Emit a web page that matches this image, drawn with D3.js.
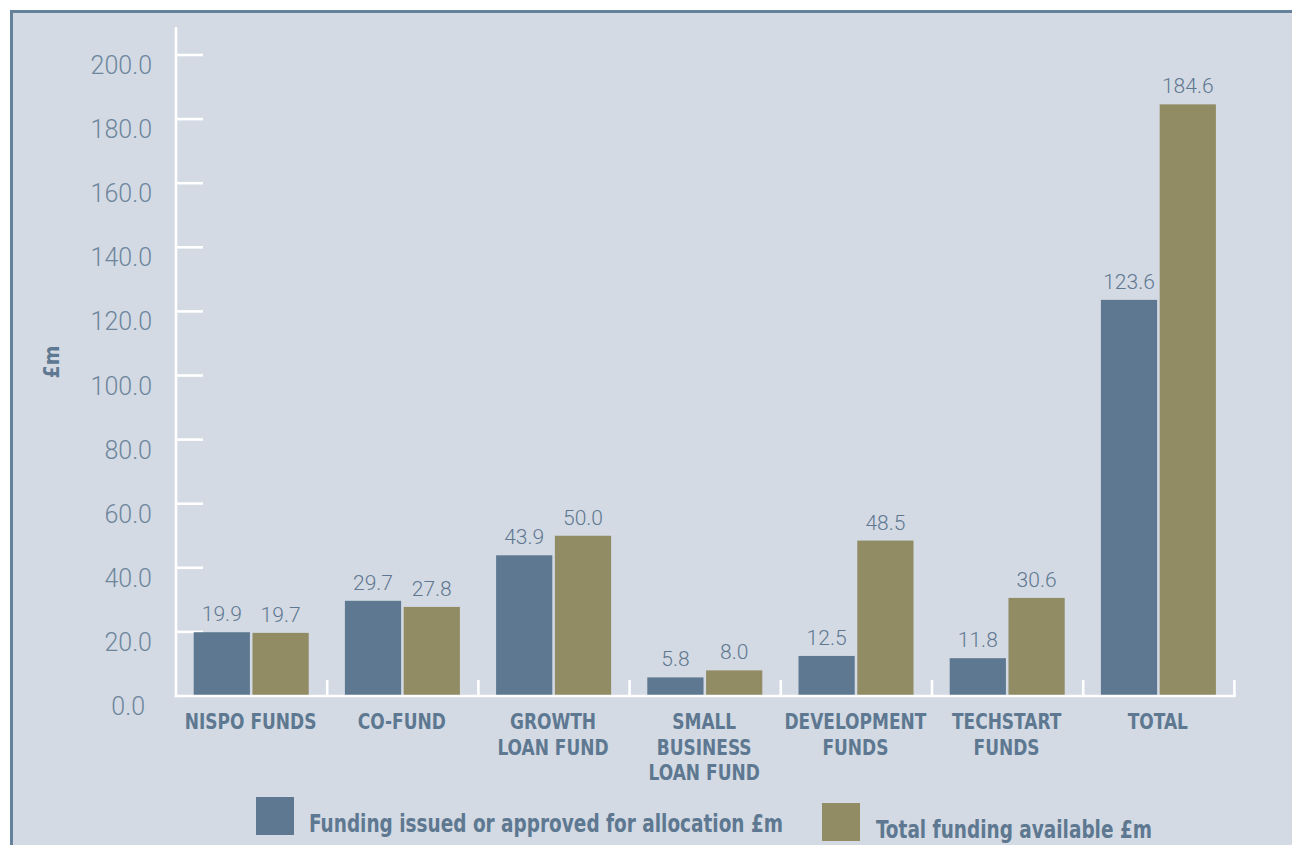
<!DOCTYPE html>
<html><head><meta charset="utf-8">
<script src="https://cdn.jsdelivr.net/npm/d3@7"></script>
<style>
html,body{margin:0;padding:0;background:#fff;}
svg{display:block;}
</style></head>
<body>
<svg id="c" width="1292" height="845"></svg>
<script>
const categories = [["NISPO FUNDS"],["CO-FUND"],["GROWTH","LOAN FUND"],["SMALL","BUSINESS","LOAN FUND"],["DEVELOPMENT","FUNDS"],["TECHSTART","FUNDS"],["TOTAL"]];
const issued = [19.9, 29.7, 43.9, 5.8, 12.5, 11.8, 123.6];
const available = [19.7, 27.8, 50.0, 8.0, 48.5, 30.6, 184.6];
const seriesNames = ["Funding issued or approved for allocation £m", "Total funding available £m"];
const yTicks = [0,20,40,60,80,100,120,140,160,180,200];

const BLUE = "#5d7890", OLIVE = "#918c63", BG = "#d3dae4", BORDER = "#66819a";
const CONDENSED = "'Liberation Sans Narrow','DejaVu Sans Condensed',sans-serif";
const svg = d3.select("#c");

svg.append("rect").attr("x",11.5).attr("y",11.5).attr("width",1300).attr("height",900)
  .attr("fill",BG).attr("stroke",BORDER).attr("stroke-width",3);

const x0 = 176, x1 = 1234.4;
const y = d3.scaleLinear().domain([0,200]).range([696,55]);
const xb = d3.scaleBand().domain(d3.range(categories.length)).range([x0,x1]).paddingInner(0).paddingOuter(0);
const xs = d3.scaleBand().domain([0,1]).range([17.7, 17.7+115]).paddingInner(5/115);

// y axis
const g = svg.append("g");
g.append("line").attr("x1",x0).attr("x2",x0).attr("y1",27).attr("y2",697.3)
  .attr("stroke","#fff").attr("stroke-width",2.6);
g.selectAll(".yt").data(yTicks.filter(d=>d>0)).join("line")
  .attr("x1",x0).attr("x2",203).attr("y1",d=>y(d)).attr("y2",d=>y(d))
  .attr("stroke","#fff").attr("stroke-width",2.6);
g.selectAll(".yl").data(yTicks).join("text")
  .attr("x",d=>d===0?145:152).attr("y",d=>y(d)+19)
  .attr("text-anchor","end").attr("font-family","Roboto, 'Open Sans', sans-serif")
  .attr("font-weight",300).attr("font-size",25).attr("fill","#6e869c")
  .text(d=>d.toFixed(1));

// x axis
g.append("line").attr("x1",x0-1.3).attr("x2",x1+1.3).attr("y1",696).attr("y2",696)
  .attr("stroke","#fff").attr("stroke-width",2.6);
g.selectAll(".xt").data(d3.range(1,categories.length+1)).join("line")
  .attr("x1",i=>x0+i*xb.step()).attr("x2",i=>x0+i*xb.step())
  .attr("y1",680).attr("y2",696).attr("stroke","#fff").attr("stroke-width",2.6);

// bars
const groups = svg.selectAll(".grp").data(categories.map((c,i)=>({c,i,v:[issued[i],available[i]]})))
  .join("g").attr("transform",d=>`translate(${xb(d.i)},0)`);
groups.selectAll("rect").data(d=>d.v).join("rect")
  .attr("x",(d,j)=>xs(j)).attr("width",xs.bandwidth())
  .attr("y",d=>y(d)).attr("height",d=>y(0)-y(d)-1.3)
  .attr("fill",(d,j)=>j===0?BLUE:OLIVE);
groups.selectAll(".val").data(d=>d.v).join("text")
  .attr("x",(d,j)=>xs(j)+xs.bandwidth()/2).attr("y",d=>y(d)-11)
  .attr("text-anchor","middle").attr("font-family","Roboto, 'Open Sans', sans-serif")
  .attr("font-weight",300).attr("font-size",21).attr("fill","#5f7890")
  .text(d=>d.toFixed(1));
groups.selectAll(".cat").data(d=>d.c).join("text")
  .attr("transform",(d,k)=>`translate(${xb.bandwidth()/2 - 1},${729+k*25.5}) scale(0.86,1)`)
  .attr("text-anchor","middle").attr("font-family",CONDENSED)
  .attr("font-weight",700).attr("font-size",22).attr("fill",BLUE)
  .text(d=>d);

// y title
svg.append("text").attr("transform","translate(59,362) rotate(-90)")
  .attr("text-anchor","middle").attr("font-family",CONDENSED)
  .attr("font-weight",700).attr("font-size",21).attr("fill",BLUE).text("£m");

// legend
const leg = [{x:256,y:797,tx:309,ty:832,w:474},{x:822,y:803,tx:876,ty:838,w:276}];
leg.forEach((l,i)=>{
  svg.append("rect").attr("x",l.x).attr("y",l.y).attr("width",38).attr("height",38).attr("fill",i===0?BLUE:OLIVE);
  svg.append("text").attr("x",l.tx).attr("y",l.ty)
    .attr("font-family",CONDENSED)
    .attr("font-weight",700).attr("font-size",25).attr("fill",BLUE)
    .attr("textLength",l.w).attr("lengthAdjust","spacingAndGlyphs")
    .text(seriesNames[i]);
});
</script>
</body></html>
